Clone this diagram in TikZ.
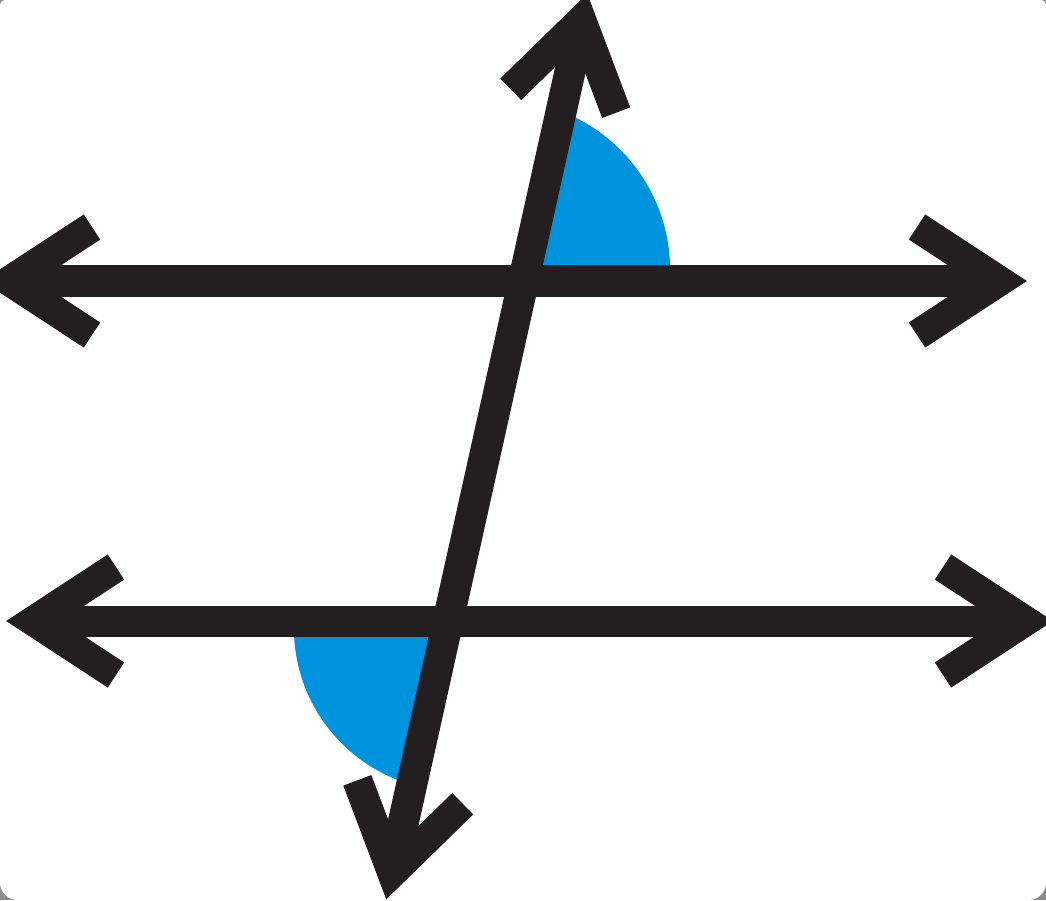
\documentclass[tikz,border=0pt]{standalone}
\usetikzlibrary{calc}
\definecolor{tinta}{RGB}{35,31,32}
\definecolor{azul}{RGB}{0,147,221}
\definecolor{marco}{RGB}{140,140,140}
\tikzset{
  recta/.style={draw=tinta, line width=0.31cm, line cap=butt,
    shorten <=0.275cm, shorten >=0.275cm},
  brazo/.style={draw=tinta, line width=0.30cm, line cap=butt, line join=miter},
  punta/.pic={\draw[brazo] (-110,54) -- (-27.5,0) -- (-110,-54);}
}
\begin{document}
\begin{tikzpicture}[x=0.01cm, y=-0.01cm]
    % Fondo
    \path[use as bounding box, clip] (0,0) rectangle (1046,900);
    \fill[marco] (0,0) rectangle (1046,900);
    \fill[white, rounded corners=5pt] (0,0) rectangle (1046,900);
    \fill[white, rounded corners=1.4pt] (0,0) rectangle (1046,450);
    % Extremos de las rectas
    \coordinate (A1) at (-18,281);
    \coordinate (A2) at (1027,281);
    \coordinate (B1) at (6,621);
    \coordinate (B2) at (1053,621);
    \coordinate (T1) at (587.3,-6.4);
    \coordinate (T2) at (386.2,899.4);
    % Intersecciones
    \coordinate (P) at (523.5,281);
    \coordinate (Q) at (448,621);
    % Ángulos
    \begin{scope}
      \clip (P) -- (800,281) -- (800,-10) -- (T1) -- cycle;
      \fill[azul] (500,270) circle[radius=1.70cm];
    \end{scope}
    \begin{scope}
      \clip (Q) -- (200,621) -- (200,910) -- (T2) -- cycle;
      \fill[azul] (457,628) circle[radius=1.63cm];
    \end{scope}
    % Paralelas y transversal
    \draw[recta] (A1) -- (A2);
    \draw[recta] (B1) -- (B2);
    \draw[recta] (T1) -- (T2);
    % Puntas
    \pic[rotate=180] at (A1) {punta};
    \pic at (A2) {punta};
    \pic[rotate=180] at (B1) {punta};
    \pic at (B2) {punta};
    \pic[rotate=77.48] at (T1) {punta};
    \pic[rotate=257.48] at (T2) {punta};
\end{tikzpicture}
\end{document}
